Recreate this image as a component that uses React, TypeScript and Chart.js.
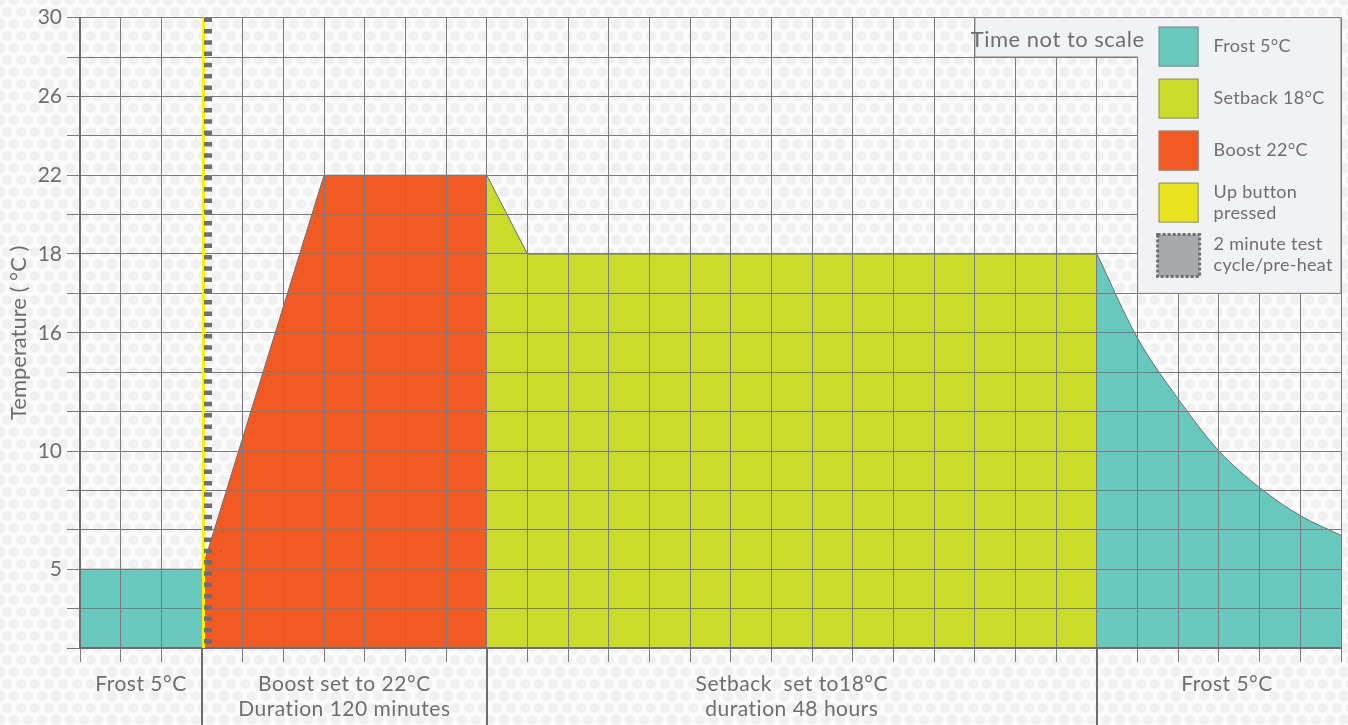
import React, { useEffect, useRef } from 'react';
import { Chart, registerables } from 'chart.js';

Chart.register(...registerables);

// ---- data (x in "time steps" — time not to scale; y in grid levels of the non-linear temperature axis)
const yTickValues = [16, 14, 12, 10, 8, 5, 2];
const yTickLabels = ['30', '26', '22', '18', '16', '10', '5'];

const frostStartX = [0, 3];
const frostStartY = [2, 2];
const boostX = [3, 6, 10];
const boostY = [2, 12, 12];
const setbackX = [10, 11, 25];
const setbackY = [12, 10, 10];
const frostEndX = [25, 26, 27, 28, 29, 30, 31];
const frostEndY = [10, 7.86, 6.32, 5.0, 4.07, 3.36, 2.86];

const upButtonX = 3;

const sectionDividers = [3, 10, 25];
const sectionCenters = [1.5, 6.5, 17.5, 28.2];
const sectionLabels = [
  ['Frost 5°C'],
  ['Boost set to 22°C', 'Duration 120 minutes'],
  ['Setback  set to18°C', 'duration 48 hours'],
  ['Frost 5°C'],
];

const legendLabels = [
  ['Frost 5°C'],
  ['Setback 18°C'],
  ['Boost 22°C'],
  ['Up button', 'pressed'],
  ['2 minute test', 'cycle/pre-heat'],
];

// ---- styles
const TEAL = '#69c8bd';
const LIME = '#cbdb2a';
const ORANGE = '#f15a22';
const YELLOW = '#e8e31e';
const STRIPE_YELLOW = '#fff200';
const GREY = '#6d6e71';
const GRID = '#7a7b7e';
const TEXT = '#6d6e71';
const FONT = 'Lato, "Noto Sans", sans-serif';
const legendColors = [TEAL, LIME, ORANGE, YELLOW, '#a7a9ac'];

const pts = (xs: number[], ys: number[]) => xs.map((x, i) => ({ x, y: ys[i] }));

function makeHexPattern(ctx: CanvasRenderingContext2D) {
  const c = document.createElement('canvas');
  const w = 14;
  const h = 24;
  c.width = w;
  c.height = h;
  const g = c.getContext('2d')!;
  g.fillStyle = '#fbfbfb';
  g.fillRect(0, 0, w, h);
  g.fillStyle = '#f0f0f1';
  const hex = (cx: number, cy: number, r: number) => {
    g.beginPath();
    for (let k = 0; k < 6; k++) {
      const a = Math.PI / 6 + (k * Math.PI) / 3;
      const px = cx + r * Math.cos(a);
      const py = cy + r * Math.sin(a);
      if (k === 0) g.moveTo(px, py);
      else g.lineTo(px, py);
    }
    g.closePath();
    g.fill();
  };
  const r = 5.6;
  hex(0, 0, r);
  hex(w, 0, r);
  hex(0, h, r);
  hex(w, h, r);
  hex(w / 2, h / 2, r);
  return ctx.createPattern(c, 'repeat');
}

const overlayPlugin = {
  id: 'overlay',
  beforeDraw(chart: any) {
    const ctx = chart.ctx as CanvasRenderingContext2D;
    const pat = makeHexPattern(ctx);
    ctx.save();
    ctx.fillStyle = pat || '#fafafa';
    ctx.fillRect(0, 0, chart.width, chart.height);
    ctx.restore();
  },
  afterDraw(chart: any) {
    const ctx = chart.ctx as any;
    const xs = chart.scales.x;
    const ys = chart.scales.y;
    const area = chart.chartArea;

    ctx.save();
    // section dividers below the axis
    ctx.strokeStyle = GREY;
    ctx.lineWidth = 2;
    sectionDividers.forEach((v) => {
      const px = Math.round(xs.getPixelForValue(v));
      ctx.beginPath();
      ctx.moveTo(px, area.bottom);
      ctx.lineTo(px, chart.height);
      ctx.stroke();
    });
    // section labels
    ctx.letterSpacing = '0.5px';
    ctx.fillStyle = TEXT;
    ctx.font = `21px ${FONT}`;
    ctx.textAlign = 'center';
    ctx.textBaseline = 'middle';
    sectionLabels.forEach((lines, i) => {
      lines.forEach((t, j) => {
        ctx.fillText(t, xs.getPixelForValue(sectionCenters[i]), area.bottom + 36 + j * 25);
      });
    });

    // up-button / test cycle marker
    const mx = xs.getPixelForValue(upButtonX);
    ctx.fillStyle = STRIPE_YELLOW;
    ctx.fillRect(mx, area.top, 3, area.bottom - area.top);
    ctx.strokeStyle = GREY;
    ctx.lineWidth = 8;
    ctx.setLineDash([4.5, 6.8]);
    ctx.beginPath();
    ctx.moveTo(mx + 6, area.top);
    ctx.lineTo(mx + 6, area.bottom);
    ctx.stroke();
    ctx.setLineDash([]);

    // legend panel (L-shaped)
    const lx0 = xs.getPixelForValue(22);
    const lx1 = xs.getPixelForValue(26);
    const lx2 = xs.getPixelForValue(31);
    const ly0 = ys.getPixelForValue(16);
    const ly1 = ys.getPixelForValue(15);
    const ly2 = ys.getPixelForValue(9);
    ctx.beginPath();
    ctx.moveTo(lx0, ly0);
    ctx.lineTo(lx2, ly0);
    ctx.lineTo(lx2, ly2);
    ctx.lineTo(lx1, ly2);
    ctx.lineTo(lx1, ly1);
    ctx.lineTo(lx0, ly1);
    ctx.closePath();
    ctx.fillStyle = '#f1f2f4';
    ctx.fill();
    ctx.strokeStyle = GRID;
    ctx.lineWidth = 1;
    ctx.stroke();

    ctx.fillStyle = TEXT;
    ctx.font = `22px ${FONT}`;
    ctx.textAlign = 'right';
    ctx.textBaseline = 'middle';
    ctx.fillText('Time not to scale', lx1 + 7, ly0 + 22);

    ctx.font = `18px ${FONT}`;
    ctx.letterSpacing = '0.3px';
    ctx.textAlign = 'left';
    legendLabels.forEach((lines, i) => {
      const sx = lx1 + 21;
      const sy = ly0 + 9 + i * 52;
      if (i === 4) {
        ctx.fillStyle = legendColors[i];
        ctx.fillRect(sx - 1, sy, 42, 42);
        ctx.strokeStyle = GREY;
        ctx.lineWidth = 3;
        ctx.setLineDash([3, 2]);
        ctx.strokeRect(sx - 1, sy, 42, 42);
        ctx.setLineDash([]);
      } else {
        ctx.fillStyle = legendColors[i];
        ctx.fillRect(sx, sy, 40, 40);
        ctx.strokeStyle = '#8a8b8d';
        ctx.lineWidth = 1;
        ctx.strokeRect(sx + 0.5, sy + 0.5, 39, 39);
      }
      ctx.fillStyle = TEXT;
      const tx = lx1 + 76;
      if (lines.length === 1) {
        ctx.fillText(lines[0], tx, sy + 20);
      } else {
        ctx.fillText(lines[0], tx, sy + 10);
        ctx.fillText(lines[1], tx, sy + 31);
      }
    });
    ctx.restore();
  },
};

export default function App() {
  const ref = useRef<HTMLCanvasElement | null>(null);
  useEffect(() => {
    if (!ref.current) return;
    const area = (data: any, color: string) => ({
      data,
      backgroundColor: color,
      borderColor: GREY,
      borderWidth: 1,
      fill: 'origin',
      pointRadius: 0,
      tension: 0,
    });
    const chart = new Chart(ref.current, {
      type: 'line',
      data: {
        datasets: [
          area(pts(frostStartX, frostStartY), TEAL),
          area(pts(boostX, boostY), ORANGE),
          area(pts(setbackX, setbackY), LIME),
          { ...area(pts(frostEndX, frostEndY), TEAL), cubicInterpolationMode: 'monotone' },
        ] as any,
      },
      options: {
        responsive: false,
        animation: false,
        devicePixelRatio: 1,
        layout: { padding: { left: 0, top: 15, right: 7, bottom: 0 } },
        plugins: { legend: { display: false }, tooltip: { enabled: false } },
        scales: {
          x: {
            type: 'linear',
            min: 0,
            max: 31,
            afterFit: (s: any) => {
              s.height = 77;
            },
            ticks: { stepSize: 1, autoSkip: false, callback: () => '', maxRotation: 0 },
            grid: { color: GRID, lineWidth: 1, tickLength: 14, z: 1 },
            border: { color: GREY, width: 2, z: 2 },
          },
          y: {
            type: 'linear',
            min: 0,
            max: 16,
            afterFit: (s: any) => {
              s.width = 80;
            },
            ticks: {
              stepSize: 1,
              autoSkip: false,
              padding: 5,
              color: TEXT,
              font: { family: FONT, size: 21 },
              callback: (v: any) => {
                const i = yTickValues.indexOf(Number(v));
                return i >= 0 ? yTickLabels[i] : '';
              },
            },
            grid: { color: GRID, lineWidth: 1, tickLength: 13, z: 1 },
            border: { color: GREY, width: 2, z: 2 },
            title: {
              display: true,
              text: 'Temperature ( °C )',
              color: TEXT,
              font: { family: FONT, size: 22 },
              padding: { top: 6, bottom: 0 },
            },
          },
        },
      } as any,
      plugins: [overlayPlugin],
    });
    return () => chart.destroy();
  }, []);
  return (
    <div style={{ position: 'fixed', left: 0, top: 0, width: 1348, height: 725 }}>
      <canvas ref={ref} width={1348} height={725} style={{ display: 'block' }} />
    </div>
  );
}
